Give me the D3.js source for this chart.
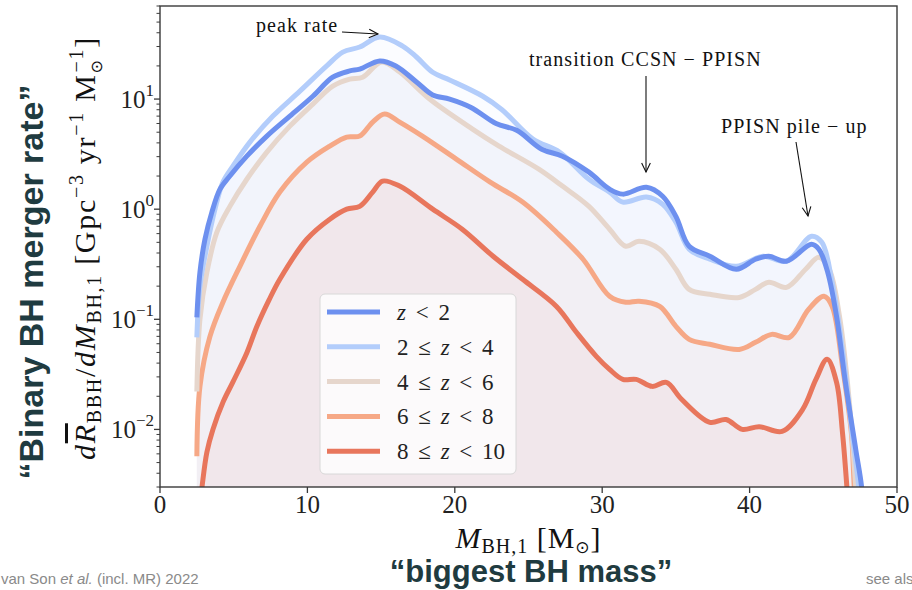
<!DOCTYPE html>
<html>
<head>
<meta charset="utf-8">
<script src="https://cdn.jsdelivr.net/npm/d3@7"></script>
<style>
  body { margin: 0; background: #fff; }
  svg { display: block; }
</style>
</head>
<body>
<svg id="chart" width="912" height="590"></svg>
<script>
// ---- Merger rate per primary BH mass, split by formation redshift ----
// Each entry: [M_BH,1 in Msun, rate in Gpc^-3 yr^-1 Msun^-1]
const rateZ0to2 = [
  [2.5,0.104],[2.71,0.267],[3.05,0.533],[3.52,0.94],[4.07,1.52],[4.74,2.0],[5.89,3.03],
  [7.25,4.61],[8.81,7.0],[10.37,10.6],[11.72,15.8],[12.87,18.0],[13.55,18.7],[14.91,22.2],
  [16.0,20.0],[17.4,14.3],[18.5,10.9],[19.65,10.0],[21.1,8.4],[22.8,6.0],[24.2,5.2],
  [25.9,3.5],[27.3,3.03],[29.1,2.17],[30.5,1.52],[31.4,1.37],[33.0,1.58],[34.1,1.31],
  [35.0,0.86],[35.9,0.46],[37.3,0.374],[39.1,0.285],[40.4,0.351],[41.3,0.374],[42.5,0.337],
  [44.2,0.481],[44.7,0.433],[45.3,0.267],[45.9,0.106],[46.5,0.0267],[47.2,0.0066],
  [47.6,0.003],[47.8,0.0012]
];
const rateZ2to4 = [
  [2.5,0.0686],[2.71,0.2],[3.18,0.46],[3.73,1.0],[4.27,1.76],[4.95,2.46],[6.10,4.06],
  [7.66,7.0],[9.49,11.8],[11.31,20.0],[12.4,26.7],[13.55,29.7],[14.91,36.6],[16.46,30.3],
  [17.4,24.1],[18.5,17.5],[19.65,14.9],[21.9,10.6],[23.2,8.0],[25.3,4.33],[27.1,3.3],
  [29.1,1.87],[30.5,1.43],[31.4,1.16],[33.0,1.29],[34.1,1.11],[35.0,0.762],[35.9,0.433],
  [37.3,0.351],[39.1,0.303],[40.9,0.374],[42.5,0.337],[44.2,0.568],[44.9,0.5],[45.6,0.217],
  [46.3,0.0533],[46.95,0.0094],[47.4,0.003],[47.6,0.0012]
];
const rateZ4to6 = [
  [2.5,0.0221],[2.71,0.1],[3.18,0.267],[3.86,0.618],[4.74,1.06],[5.89,1.87],[7.25,3.3],
  [8.81,5.68],[10.37,9.0],[11.72,13.1],[12.87,15.2],[13.75,15.8],[15.04,21.7],[16.26,17.6],
  [18.29,10.0],[21.2,5.34],[23.0,3.74],[25.7,2.31],[27.3,1.62],[29.1,1.06],[30.5,0.658],
  [31.6,0.461],[32.5,0.512],[33.9,0.433],[35.0,0.285],[35.9,0.187],[37.3,0.169],[39.3,0.158],
  [40.4,0.187],[41.3,0.217],[42.5,0.195],[43.8,0.285],[44.7,0.366],[45.4,0.285],[46.1,0.106],
  [46.75,0.0187],[47.2,0.003],[47.4,0.0012]
];
const rateZ6to8 = [
  [2.5,0.0057],[2.71,0.0246],[3.39,0.07],[4.27,0.143],[5.42,0.303],[6.78,0.7],[8.13,1.43],
  [9.96,2.67],[11.52,3.74],[12.67,4.52],[13.55,4.61],[14.43,6.18],[15.24,7.31],[16.26,6.18],
  [17.8,4.61],[20.1,2.85],[22.4,1.76],[24.6,1.16],[26.9,0.618],[28.7,0.351],[30.5,0.162],
  [31.6,0.143],[32.5,0.146],[33.9,0.131],[35.0,0.0863],[35.9,0.0658],[37.3,0.0593],
  [39.3,0.0533],[40.4,0.0618],[41.5,0.073],[42.7,0.0686],[44.0,0.123],[45.05,0.162],
  [45.6,0.131],[46.3,0.0374],[46.9,0.0094],[47.1,0.003],[47.3,0.0012]
];
const rateZ8to10 = [
  [2.6,0.0015],[2.85,0.003],[3.18,0.0062],[3.59,0.01],[4.3,0.018],[4.95,0.027],[5.9,0.05],
  [6.57,0.086],[7.4,0.15],[8.13,0.231],[9.96,0.533],[11.52,0.811],[12.67,1.0],[13.55,1.06],
  [14.43,1.43],[15.1,1.8],[16.26,1.62],[18.5,1.0],[20.5,0.658],[22.6,0.374],[24.6,0.231],
  [26.9,0.131],[28.25,0.0762],[29.6,0.0461],[30.5,0.0351],[31.4,0.0285],[32.3,0.0285],
  [33.4,0.0246],[34.35,0.0267],[35.4,0.0187],[37.3,0.0116],[38.4,0.0123],[39.5,0.01],
  [40.65,0.0106],[42.2,0.0096],[43.6,0.0152],[44.5,0.0285],[45.26,0.0433],[45.9,0.0267],
  [46.3,0.0094],[46.6,0.003],[46.8,0.0012]
];

const seriesLabels = ["z < 2", "2 ≤ z < 4", "4 ≤ z < 6", "6 ≤ z < 8", "8 ≤ z < 10"];
const seriesColors = ["#6d90ef", "#b3cdfb", "#e6d6cc", "#f6a886", "#e8765c"];
const seriesData = [rateZ0to2, rateZ2to4, rateZ4to6, rateZ6to8, rateZ8to10];

const xTicks = [0, 10, 20, 30, 40, 50];
const yTicks = [0.01, 0.1, 1, 10];
const yTickExponents = ["−2", "−1", "0", "1"];

// ---- layout ----
const serif = "'Liberation Serif', 'Times New Roman', serif";
const sans = "'Liberation Sans', Arial, Helvetica, sans-serif";
const plotL = 160, plotR = 897, plotT = 6, plotB = 487;

const x = d3.scaleLinear().domain([0, 50]).range([plotL, plotR]);
const y = d3.scaleLog().domain([0.003, 70]).range([plotB, plotT]);

const svg = d3.select("#chart");

svg.append("defs").append("clipPath").attr("id", "plotClip")
  .append("rect").attr("x", plotL).attr("y", plotT)
  .attr("width", plotR - plotL).attr("height", plotB - plotT);

const series = seriesData.map((d, i) => ({ data: d, color: seriesColors[i], label: seriesLabels[i] }));

const curve = d3.curveCatmullRom.alpha(0.5);
const line = d3.line().x(d => x(d[0])).y(d => y(d[1])).curve(curve);
const area = d3.area().x(d => x(d[0])).y0(plotB + 40).y1(d => y(d[1])).curve(curve);

const plot = svg.append("g").attr("clip-path", "url(#plotClip)");

// translucent fills under each curve
plot.selectAll("path.fill").data(series).join("path")
  .attr("class", "fill")
  .attr("d", d => area(d.data))
  .attr("fill", d => d.color)
  .attr("fill-opacity", 0.055)
  .attr("stroke", "none");

// curves, highest redshift drawn first
plot.selectAll("path.curve").data(series.slice().reverse()).join("path")
  .attr("class", "curve")
  .attr("d", d => line(d.data))
  .attr("fill", "none")
  .attr("stroke", d => d.color)
  .attr("stroke-width", 5)
  .attr("stroke-linejoin", "round")
  .attr("stroke-linecap", "butt");

// ---- axes ----
const axisColor = "#3a3a3a";

// minor log ticks on y
const minorTicks = [];
for (let e = -3; e <= 1; e++) {
  for (let m = 2; m <= 9; m++) {
    const v = m * Math.pow(10, e);
    if (v >= 0.003 && v <= 70) minorTicks.push(v);
  }
}
svg.append("g").selectAll("line").data(minorTicks).join("line")
  .attr("x1", plotL - 3.5).attr("x2", plotL)
  .attr("y1", d => y(d)).attr("y2", d => y(d))
  .attr("stroke", axisColor).attr("stroke-width", 1);

svg.append("g").selectAll("line").data(yTicks).join("line")
  .attr("x1", plotL - 6).attr("x2", plotL)
  .attr("y1", d => y(d)).attr("y2", d => y(d))
  .attr("stroke", axisColor).attr("stroke-width", 1.3);

const yLabels = svg.append("g").selectAll("text").data(yTicks).join("text")
  .attr("x", plotL - 6).attr("y", d => y(d) + 9)
  .attr("text-anchor", "end")
  .style("font-family", serif).style("font-size", "25px").attr("fill", "#222");
yLabels.append("tspan").text("10");
yLabels.append("tspan").attr("dy", -12).style("font-size", "17px")
  .text((d, i) => yTickExponents[i]);

svg.append("g").selectAll("line").data(xTicks).join("line")
  .attr("x1", d => x(d)).attr("x2", d => x(d))
  .attr("y1", plotB).attr("y2", plotB + 6)
  .attr("stroke", axisColor).attr("stroke-width", 1.3);

svg.append("g").selectAll("text").data(xTicks).join("text")
  .attr("x", d => x(d)).attr("y", plotB + 26)
  .attr("text-anchor", "middle")
  .style("font-family", serif).style("font-size", "25px").attr("fill", "#222")
  .text(d => d);

// frame
svg.append("rect")
  .attr("x", plotL).attr("y", plotT)
  .attr("width", plotR - plotL).attr("height", plotB - plotT)
  .attr("fill", "none").attr("stroke", axisColor).attr("stroke-width", 1.4);

// ---- axis titles ----
const xl = svg.append("text")
  .attr("x", (plotL + plotR) / 2).attr("y", plotB + 61)
  .attr("text-anchor", "middle")
  .style("font-family", serif).style("font-size", "30px").style("letter-spacing", "1px")
  .attr("fill", "#111");
xl.append("tspan").style("font-style", "italic").text("M");
xl.append("tspan").attr("dy", 5).style("font-size", "20px").text("BH,1");
xl.append("tspan").attr("dy", -5).text(" [M");
xl.append("tspan").attr("dy", 5).style("font-size", "17px").style("font-family", "'DejaVu Sans'").text("⊙");
xl.append("tspan").attr("dy", -5).text("]");

const yl = svg.append("text")
  .attr("transform", "translate(95," + 248 + ") rotate(-90)")
  .attr("text-anchor", "middle")
  .style("font-family", serif).style("font-size", "30px").style("letter-spacing", "1.7px")
  .attr("fill", "#111");
yl.append("tspan").style("font-style", "italic").text("d");
yl.append("tspan").style("font-style", "italic").style("text-decoration", "overline").text("R");
yl.append("tspan").attr("dy", 6).style("font-size", "20px").text("BBH");
yl.append("tspan").attr("dy", -6).text("/");
yl.append("tspan").style("font-style", "italic").text("dM");
yl.append("tspan").attr("dy", 6).style("font-size", "20px").text("BH,1");
yl.append("tspan").attr("dy", -6).text(" [Gpc");
yl.append("tspan").attr("dy", -12).style("font-size", "20px").text("−3");
yl.append("tspan").attr("dy", 12).text(" yr");
yl.append("tspan").attr("dy", -12).style("font-size", "20px").text("−1");
yl.append("tspan").attr("dy", 12).text(" M");
yl.append("tspan").attr("dy", 7).style("font-size", "16px").style("font-family", "'DejaVu Sans'").text("⊙");
yl.append("tspan").attr("dy", -19).attr("dx", -14).style("font-size", "20px").text("−1");
yl.append("tspan").attr("dy", 12).text("]");

// ---- legend ----
const legend = svg.append("g").attr("transform", "translate(320,294)");
legend.append("rect")
  .attr("width", 196).attr("height", 180).attr("rx", 5)
  .attr("fill", "#fff").attr("fill-opacity", 0.8)
  .attr("stroke", "#d8d8d8").attr("stroke-width", 1);
const rows = legend.selectAll("g.row").data(series).join("g")
  .attr("class", "row")
  .attr("transform", (d, i) => `translate(0,${18 + i * 34.8})`);
rows.append("line")
  .attr("x1", 7).attr("x2", 60).attr("y1", 0).attr("y2", 0)
  .attr("stroke", d => d.color).attr("stroke-width", 5);
const lt = rows.append("text")
  .attr("x", 77).attr("y", 8)
  .style("font-family", serif).style("font-size", "23px").style("word-spacing", "4px")
  .attr("fill", "#222")
  .attr("xml:space", "preserve");
lt.each(function(d) {
  const parts = d.label.split("z");
  const t = d3.select(this);
  parts.forEach((p, k) => {
    if (k > 0) t.append("tspan").style("font-style", "italic").text("z");
    t.append("tspan").text(p);
  });
});

// ---- annotations ----
function arrow(x1, y1, x2, y2) {
  const g = svg.append("g").attr("stroke", "#111").attr("stroke-width", 1.1).attr("fill", "none");
  g.append("line").attr("x1", x1).attr("y1", y1).attr("x2", x2).attr("y2", y2);
  const a = Math.atan2(y2 - y1, x2 - x1), L = 10, s = 0.45;
  g.append("path").attr("d",
    `M${x2 - L * Math.cos(a - s)},${y2 - L * Math.sin(a - s)} L${x2},${y2} L${x2 - L * Math.cos(a + s)},${y2 - L * Math.sin(a + s)}`);
}
function note(str, xPos, yPos) {
  svg.append("text").attr("x", xPos).attr("y", yPos)
    .style("font-family", serif).style("font-size", "20px").style("letter-spacing", "1.05px")
    .attr("fill", "#111")
    .text(str);
}
note("peak rate", 256, 32);
arrow(342, 32, 378, 34);
note("transition CCSN − PPISN", 529, 66);
arrow(646, 76, 646, 172);
note("PPISN pile − up", 721, 133);
arrow(796, 142, 808, 216);

// ---- slide captions ----
svg.append("text")
  .attr("transform", "translate(43,282) rotate(-90)")
  .attr("text-anchor", "middle")
  .style("font-family", sans).style("font-weight", "bold").style("font-size", "34px")
  .attr("fill", "#1f3b40")
  .text("“Binary BH merger rate”");

svg.append("text")
  .attr("x", 531).attr("y", 582)
  .attr("text-anchor", "middle")
  .style("font-family", sans).style("font-weight", "bold").style("font-size", "31px")
  .attr("fill", "#1f3b40")
  .text("“biggest BH mass”");

const cred = svg.append("text").attr("x", 1).attr("y", 584)
  .style("font-family", sans).style("font-size", "15px").attr("fill", "#8a8a8a");
cred.append("tspan").text("van Son ");
cred.append("tspan").style("font-style", "italic").text("et al.");
cred.append("tspan").text(" (incl. MR) 2022");

svg.append("text").attr("x", 866).attr("y", 584)
  .style("font-family", sans).style("font-size", "15px").attr("fill", "#8a8a8a")
  .text("see also");
</script>
</body>
</html>
